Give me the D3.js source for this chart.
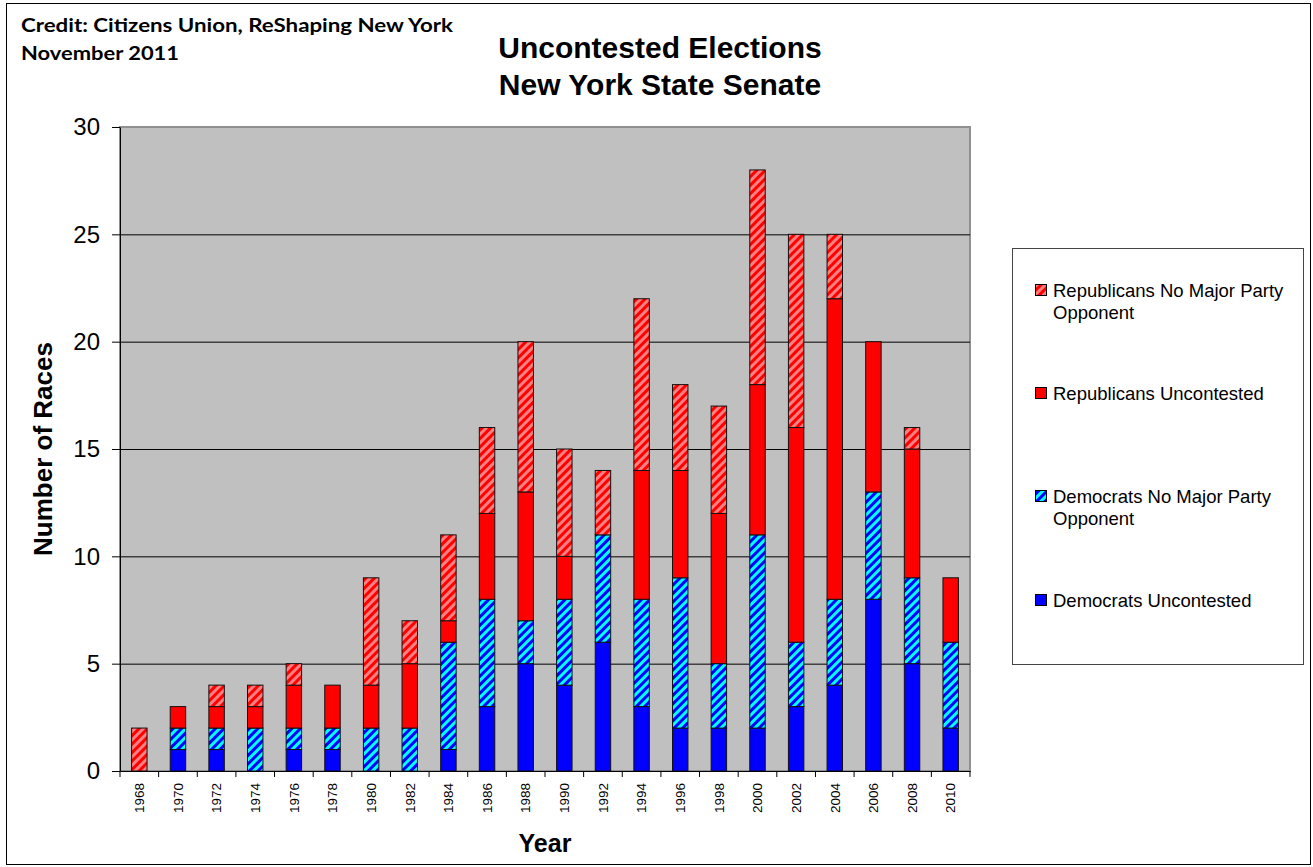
<!DOCTYPE html>
<html>
<head>
<meta charset="utf-8">
<script src="https://cdn.jsdelivr.net/npm/d3@7"></script>
<style>
  html, body { margin: 0; padding: 0; background: #fff; }
  svg { display: block; }
</style>
</head>
<body>
<div id="chart"></div>
<script>
// Values
const years = ['1968', '1970', '1972', '1974', '1976', '1978', '1980', '1982', '1984', '1986', '1988',
  '1990', '1992', '1994', '1996', '1998', '2000', '2002', '2004', '2006', '2008', '2010'];
const demUncontested = [0, 1, 1, 0, 1, 1, 0, 0, 1, 3, 5, 4, 6, 3, 2, 2, 2, 3, 4, 8, 5, 2];
const demNoMajorParty = [0, 1, 1, 2, 1, 1, 2, 2, 5, 5, 2, 4, 5, 5, 7, 3, 9, 3, 4, 5, 4, 4];
const repUncontested = [0, 1, 1, 1, 2, 2, 2, 3, 1, 4, 6, 2, 0, 6, 5, 7, 7, 10, 14, 7, 6, 3];
const repNoMajorParty = [2, 0, 1, 1, 1, 0, 5, 2, 4, 4, 7, 5, 3, 8, 4, 5, 10, 9, 3, 0, 1, 0];
const yTicks = [0, 5, 10, 15, 20, 25, 30];

const seriesKeys = ['demUnc', 'demNmp', 'repUnc', 'repNmp'];
const seriesNames = {
  demUnc: ['Democrats Uncontested'],
  demNmp: ['Democrats No Major Party', 'Opponent'],
  repUnc: ['Republicans Uncontested'],
  repNmp: ['Republicans No Major Party', 'Opponent']
};

const rows = years.map((y, i) => ({
  year: y,
  demUnc: demUncontested[i],
  demNmp: demNoMajorParty[i],
  repUnc: repUncontested[i],
  repNmp: repNoMajorParty[i]
}));

const width = 1313, height = 867;
const plot = { left: 120, right: 970, top: 127, bottom: 771 };

const svg = d3.select('#chart').append('svg')
  .attr('width', width)
  .attr('height', height);

// hatch patterns ("wide upward diagonal")
const defs = svg.append('defs');
function hatch(id, bg, fg) {
  const p = defs.append('pattern')
    .attr('id', id)
    .attr('patternUnits', 'userSpaceOnUse')
    .attr('width', 6).attr('height', 6)
    .attr('patternTransform', 'rotate(45)');
  p.append('rect').attr('width', 6).attr('height', 6).attr('fill', bg);
  p.append('rect').attr('x', 0).attr('width', 3).attr('height', 6).attr('fill', fg);
}
hatch('hatchRed', '#FF8080', '#FF0000');
hatch('hatchBlue', '#00FFFF', '#0000FF');

const fills = {
  demUnc: '#0000FF',
  demNmp: 'url(#hatchBlue)',
  repUnc: '#FF0000',
  repNmp: 'url(#hatchRed)'
};

// outer chart border
svg.append('rect')
  .attr('x', 6.5).attr('y', 3.5)
  .attr('width', 1304).attr('height', 861)
  .attr('fill', '#fff')
  .attr('stroke', '#000');

// scales
const x = d3.scaleBand()
  .domain(years)
  .range([plot.left, plot.right])
  .paddingInner(0.6)
  .paddingOuter(0.3);

const y = d3.scaleLinear()
  .domain([0, 30])
  .range([plot.bottom, plot.top]);

// plot area
svg.append('rect')
  .attr('x', plot.left).attr('y', plot.top)
  .attr('width', plot.right - plot.left)
  .attr('height', plot.bottom - plot.top)
  .attr('fill', '#C0C0C0')
  .attr('stroke', '#909090')
  .attr('stroke-width', 2);

// gridlines
svg.append('g')
  .selectAll('line')
  .data(yTicks.filter(d => d > 0 && d < 30))
  .enter()
  .append('line')
  .attr('x1', plot.left).attr('x2', plot.right)
  .attr('y1', d => y(d) + 0.5).attr('y2', d => y(d) + 0.5)
  .attr('stroke', '#000')
  .attr('stroke-width', 1);

// stacked bars
const stacked = d3.stack().keys(seriesKeys)(rows);

svg.append('g')
  .selectAll('g')
  .data(stacked)
  .enter()
  .append('g')
  .attr('fill', d => fills[d.key])
  .selectAll('rect')
  .data(d => d.filter(s => s[1] > s[0]))
  .enter()
  .append('rect')
  .attr('x', d => x(d.data.year))
  .attr('y', d => y(d[1]))
  .attr('width', x.bandwidth())
  .attr('height', d => y(d[0]) - y(d[1]))
  .attr('stroke', '#111')
  .attr('stroke-width', 1);

// Y axis
const yAxis = svg.append('g')
  .attr('transform', `translate(${plot.left},0)`)
  .call(d3.axisLeft(y).tickValues(yTicks).tickSize(8).tickPadding(12).tickSizeOuter(0));
yAxis.select('.domain').attr('stroke', '#000');
yAxis.selectAll('text')
  .style('font-family', 'Liberation Sans, Arial, sans-serif')
  .style('font-size', '24px')
  .attr('fill', '#000');

// X axis: labels at band centres, tick marks on the category boundaries
const xAxis = svg.append('g')
  .attr('transform', `translate(0,${plot.bottom})`)
  .call(d3.axisBottom(x).tickSize(0).tickSizeOuter(0));
xAxis.select('.domain').attr('stroke', '#000');
xAxis.selectAll('text')
  .attr('transform', 'rotate(-90)')
  .attr('x', -12)
  .attr('y', 0)
  .attr('dy', '0.35em')
  .style('text-anchor', 'end')
  .style('font-family', 'Liberation Sans, Arial, sans-serif')
  .style('font-size', '13.5px')
  .attr('fill', '#000');

svg.append('g')
  .selectAll('line')
  .data(years.concat(['end']))
  .enter()
  .append('line')
  .attr('x1', (d, i) => plot.left + i * x.step())
  .attr('x2', (d, i) => plot.left + i * x.step())
  .attr('y1', plot.bottom)
  .attr('y2', plot.bottom + 6)
  .attr('stroke', '#000');

// titles
svg.append('text')
  .attr('x', 660).attr('y', 58)
  .attr('text-anchor', 'middle')
  .style('font-family', 'Liberation Sans, Arial, sans-serif')
  .style('font-weight', 'bold')
  .style('font-size', '30px')
  .text('Uncontested Elections');

svg.append('text')
  .attr('x', 660).attr('y', 95)
  .attr('text-anchor', 'middle')
  .style('font-family', 'Liberation Sans, Arial, sans-serif')
  .style('font-weight', 'bold')
  .style('font-size', '30px')
  .text('New York State Senate');

svg.append('text')
  .attr('x', 21).attr('y', 32)
  .attr('textLength', 432)
  .attr('lengthAdjust', 'spacingAndGlyphs')
  .style('font-family', 'Lato, sans-serif')
  .style('font-weight', 'bold')
  .style('font-size', '18.5px')
  .text('Credit: Citizens Union, ReShaping New York');

svg.append('text')
  .attr('x', 21).attr('y', 60)
  .attr('textLength', 158)
  .attr('lengthAdjust', 'spacingAndGlyphs')
  .style('font-family', 'Lato, sans-serif')
  .style('font-weight', 'bold')
  .style('font-size', '18.5px')
  .text('November 2011');

// axis titles
svg.append('text')
  .attr('x', (plot.left + plot.right) / 2).attr('y', 852)
  .attr('text-anchor', 'middle')
  .style('font-family', 'Liberation Sans, Arial, sans-serif')
  .style('font-weight', 'bold')
  .style('font-size', '25px')
  .text('Year');

svg.append('text')
  .attr('transform', 'rotate(-90)')
  .attr('x', -(plot.top + plot.bottom) / 2)
  .attr('y', 52)
  .attr('text-anchor', 'middle')
  .style('font-family', 'Liberation Sans, Arial, sans-serif')
  .style('font-weight', 'bold')
  .style('font-size', '26px')
  .text('Number of Races');

// legend
const legend = svg.append('g');
legend.append('rect')
  .attr('x', 1012.5).attr('y', 248.5)
  .attr('width', 291).attr('height', 416)
  .attr('fill', '#fff')
  .attr('stroke', '#444');

const legendItems = [
  { key: 'repNmp', y: 297 },
  { key: 'repUnc', y: 400 },
  { key: 'demNmp', y: 503 },
  { key: 'demUnc', y: 607 }
];

const li = legend.selectAll('g.item')
  .data(legendItems)
  .enter()
  .append('g')
  .attr('class', 'item');

li.append('rect')
  .attr('x', 1035.5)
  .attr('y', d => d.y - 12.5)
  .attr('width', 11).attr('height', 11)
  .attr('fill', d => fills[d.key])
  .attr('stroke', '#000');

li.append('text')
  .style('font-family', 'Liberation Sans, Arial, sans-serif')
  .style('font-size', '18.5px')
  .attr('fill', '#000')
  .selectAll('tspan')
  .data(d => seriesNames[d.key].map((t, i) => ({ t, i, y: d.y })))
  .enter()
  .append('tspan')
  .attr('x', 1053)
  .attr('y', d => d.y + d.i * 21.5)
  .text(d => d.t);
</script>
</body>
</html>
